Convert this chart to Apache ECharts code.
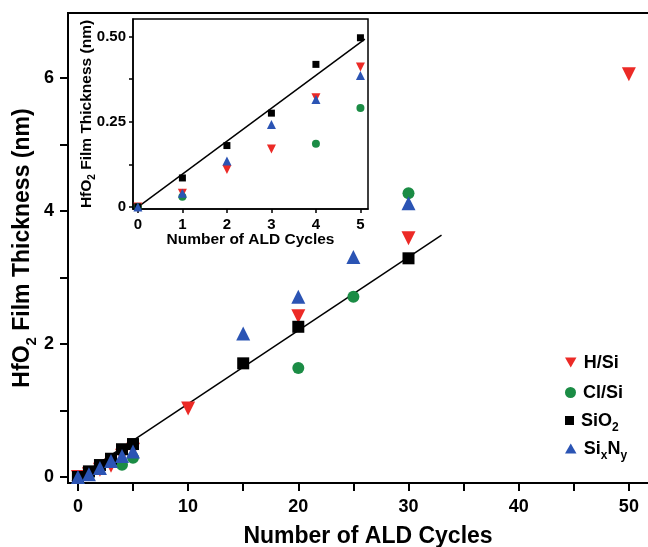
<!DOCTYPE html>
<html lang="en">
<head>
    <meta charset="UTF-8">
    <title>HfO2 Film Thickness vs ALD Cycles</title>
    <script src="https://cdn.jsdelivr.net/npm/echarts@6/dist/echarts.min.js"></script>
    <style>
        body { margin: 0; background: #fff; }
        #chart { width: 648px; height: 547px; }
    </style>
</head>
<body>
<div id="chart"></div>
<script>
    // data (cycles, thickness in nm)
    var hsiX = [0, 1, 2, 3, 4, 5, 10, 20, 30, 50];
    var hsiY = [0.0, 0.04, 0.11, 0.17, 0.32, 0.41, 1.03, 2.42, 3.59, 6.06];
    var clsiX = [0, 1, 4, 5, 20, 25, 30];
    var clsiY = [0.0, 0.03, 0.185, 0.29, 1.64, 2.71, 4.27];
    var sio2X = [0, 1, 2, 3, 4, 5, 15, 20, 30];
    var sio2Y = [0.0, 0.085, 0.18, 0.275, 0.418, 0.496, 1.71, 2.26, 3.29];
    var sixnyX = [0, 1, 2, 3, 4, 5, 15, 20, 25, 30];
    var sixnyY = [0.0, 0.04, 0.135, 0.242, 0.315, 0.385, 2.16, 2.71, 3.31, 4.12];

    // fitted lines (end points)
    var fitMainX = [-0.54, 33.0];
    var fitMainY = [-0.06, 3.64];
    var fitInsetX = [-0.1, 5.1];
    var fitInsetY = [-0.01, 0.492];

    // ticks
    var mainXTicks = [0, 5, 10, 15, 20, 25, 30, 35, 40, 45, 50];
    var mainXLabels = [0, 10, 20, 30, 40, 50];
    var mainYTicks = [0, 1, 2, 3, 4, 5, 6];
    var mainYLabels = [0, 2, 4, 6];
    var insetXTicks = [0, 1, 2, 3, 4, 5];
    var insetYTicks = [0, 0.125, 0.25, 0.375, 0.5];
    var insetYLabels = [0, 0.25, 0.5];

    var names = ['H/Si', 'Cl/Si', 'SiO2', 'SixNy'];
    var colors = ['#ec2a26', '#1b8c45', '#000000', '#2b54b4'];
    var symbols = ['triangle', 'circle', 'rect', 'triangle'];
    var rotates = [180, 0, 0, 0];
    var legendIcons = ['path://M0,0 L10,0 L5,8.7 Z', 'circle', 'rect', 'path://M5,0 L10,8.7 L0,8.7 Z'];
    var legendSizes = [[12, 10], [11, 11], [9, 9], [12, 10]];
    var legendTops = [349, 379, 407, 435];
    var xs = [hsiX, clsiX, sio2X, sixnyX];
    var ys = [hsiY, clsiY, sio2Y, sixnyY];

    function pairs(x, y, maxX) {
        var out = [];
        for (var i = 0; i < x.length; i++) {
            if (maxX === undefined || x[i] <= maxX) out.push([x[i], y[i]]);
        }
        return out;
    }

    var font = '"Liberation Sans", Arial, sans-serif';
    var mainSizes = [14, 12, 12, 14];
    var insetSizes = [9, 8, 7, 9];

    var series = [];
    // main scatter
    for (var i = 0; i < 4; i++) {
        series.push({
            name: names[i], type: 'scatter', xAxisIndex: 0, yAxisIndex: 0,
            symbol: symbols[i], symbolRotate: rotates[i], symbolSize: mainSizes[i],
            itemStyle: { color: colors[i], opacity: 1 },
            data: pairs(xs[i], ys[i]), z: 3
        });
    }
    series.push({
        type: 'line', xAxisIndex: 0, yAxisIndex: 0, symbol: 'none', silent: true,
        lineStyle: { color: '#000', width: 1.5 }, z: 2,
        data: pairs(fitMainX, fitMainY)
    });
    // inset scatter
    for (var j = 0; j < 4; j++) {
        series.push({
            name: names[j], type: 'scatter', xAxisIndex: 1, yAxisIndex: 1,
            symbol: symbols[j], symbolRotate: rotates[j], symbolSize: insetSizes[j],
            itemStyle: { color: colors[j], opacity: 1 },
            data: pairs(xs[j], ys[j], 5), z: 6
        });
    }
    series.push({
        type: 'line', xAxisIndex: 1, yAxisIndex: 1, symbol: 'none', silent: true,
        lineStyle: { color: '#000', width: 1.5 }, z: 5,
        data: pairs(fitInsetX, fitInsetY)
    });

    function richName(size, subSize) {
        return {
            a: { fontSize: size, fontWeight: 'bold', fontFamily: font, color: '#000', lineHeight: size + 4, verticalAlign: 'top' },
            s: { fontSize: subSize, fontWeight: 'bold', fontFamily: font, color: '#000', lineHeight: subSize,
                 padding: [Math.round(size * 0.55), 0, 0, 0], verticalAlign: 'top' }
        };
    }

    // one legend block per row so the rows sit at even spacing
    var legends = names.map(function (n, k) {
        return {
            orient: 'vertical', left: 560, top: legendTops[k],
            itemWidth: legendSizes[k][0], itemHeight: legendSizes[k][1],
            data: [{ name: n, icon: legendIcons[k] }],
            formatter: function (nm) {
                if (nm === 'SiO2') return '{a|SiO}{s|2}';
                if (nm === 'SixNy') return '{a|Si}{s|x}{a|N}{s|y}';
                return '{a|' + nm + '}';
            },
            textStyle: { rich: richName(18, 12), padding: [5, 0, 0, 2] }
        };
    });

    var chart = echarts.init(document.getElementById('chart'));
    chart.setOption({
        animation: false,
        backgroundColor: '#fff',
        grid: [
            { left: 68, top: 13, width: 600, height: 470, show: true, borderColor: '#000', borderWidth: 2,
              backgroundColor: 'transparent', z: 0, outerBoundsMode: 'none', containLabel: false },
            { left: 133, top: 19, width: 235, height: 190, show: true, borderColor: '#000', borderWidth: 1.5,
              backgroundColor: '#fff', z: 4, outerBoundsMode: 'none', containLabel: false }
        ],
        legend: legends,
        xAxis: [
            {
                type: 'value', gridIndex: 0, min: -0.9, max: 53.55,
                splitLine: { show: false },
                axisLine: { onZero: false, lineStyle: { color: '#000', width: 2 } },
                axisTick: { customValues: mainXTicks, length: 8, inside: false, lineStyle: { color: '#000', width: 2 } },
                axisLabel: { customValues: mainXLabels, margin: 15, fontSize: 18, fontWeight: 'bold', fontFamily: font, color: '#000' },
                name: 'Number of ALD Cycles', nameLocation: 'middle', nameGap: 42, nameMoveOverlap: false,
                nameTextStyle: { fontSize: 23, fontWeight: 'bold', fontFamily: font, color: '#000' }
            },
            {
                type: 'value', gridIndex: 1, min: -0.11, max: 5.17, z: 5,
                splitLine: { show: false },
                axisLine: { onZero: false, lineStyle: { color: '#000', width: 1.5 } },
                axisTick: { customValues: insetXTicks, length: 4, lineStyle: { color: '#000', width: 1.5 } },
                axisLabel: { customValues: insetXTicks, margin: 8, fontSize: 15, fontWeight: 'bold', fontFamily: font, color: '#000' },
                name: 'Number of ALD Cycles', nameLocation: 'middle', nameGap: 23, nameMoveOverlap: false,
                nameTextStyle: { fontSize: 15.5, fontWeight: 'bold', fontFamily: font, color: '#000' }
            }
        ],
        yAxis: [
            {
                type: 'value', gridIndex: 0, min: -0.09, max: 6.98,
                splitLine: { show: false },
                axisLine: { onZero: false, lineStyle: { color: '#000', width: 2 } },
                axisTick: { customValues: mainYTicks, length: 8, lineStyle: { color: '#000', width: 2 } },
                axisLabel: { customValues: mainYLabels, margin: 14, fontSize: 18, fontWeight: 'bold', fontFamily: font, color: '#000' },
                name: '{a|HfO}{s|2}{a| Film Thickness (nm)}', nameLocation: 'middle', nameGap: 30, nameMoveOverlap: false,
                nameTextStyle: { rich: richName(23, 15) }
            },
            {
                type: 'value', gridIndex: 1, min: -0.006, max: 0.551, z: 5,
                splitLine: { show: false },
                axisLine: { onZero: false, lineStyle: { color: '#000', width: 1.5 } },
                axisTick: { customValues: insetYTicks, length: 4, lineStyle: { color: '#000', width: 1.5 } },
                axisLabel: {
                    customValues: insetYLabels, margin: 7, fontSize: 15, fontWeight: 'bold', fontFamily: font, color: '#000',
                    formatter: function (v) { return v === 0 ? '0' : v.toFixed(2); }
                },
                name: '{a|HfO}{s|2}{a| Film Thickness (nm)}', nameLocation: 'middle', nameGap: 35, nameMoveOverlap: false,
                nameTextStyle: { rich: richName(15.5, 10) }
            }
        ],
        series: series
    });
</script>
</body>
</html>
